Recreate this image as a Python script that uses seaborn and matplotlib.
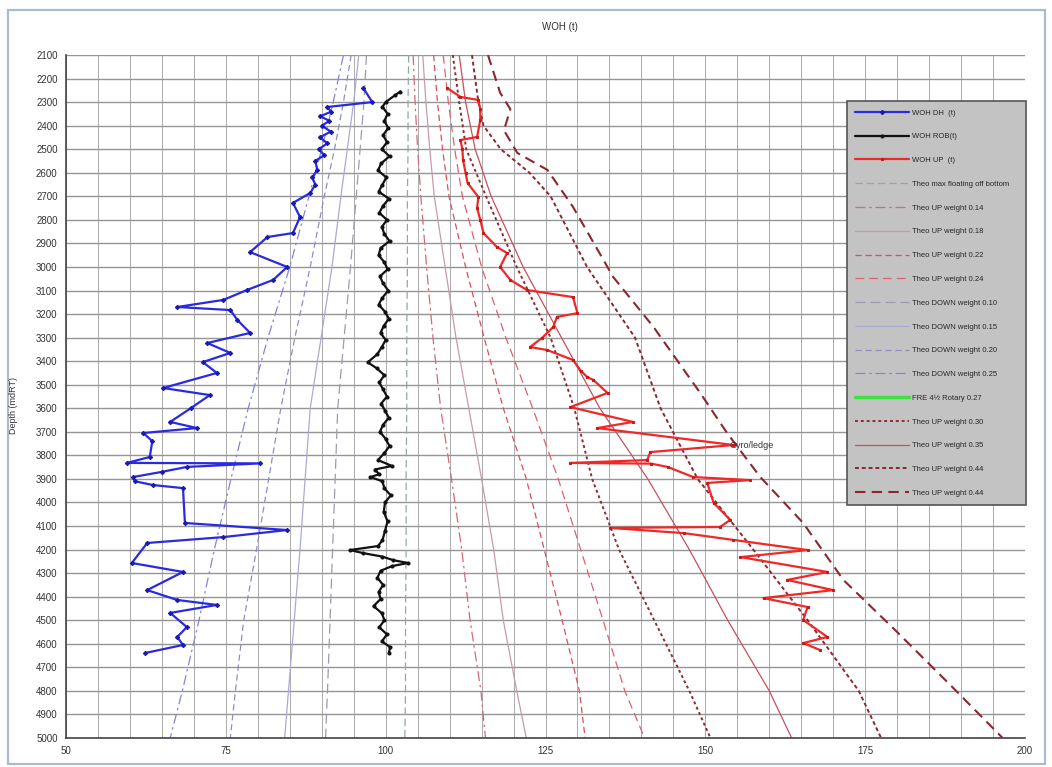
import matplotlib
matplotlib.use("Agg")
import matplotlib.pyplot as plt
import seaborn as sns
from matplotlib.lines import Line2D
from matplotlib.patches import Rectangle
from matplotlib.ticker import MultipleLocator

# --- measured weights (t) vs depth (mdRT) ---
dh_depth = [2240, 2300, 2321, 2340, 2360, 2380, 2400, 2425, 2450, 2475, 2500, 2525, 2550,
            2588, 2620, 2650, 2686, 2728, 2788, 2856, 2873, 2937, 3000, 3055, 3098, 3140,
            3170, 3183, 3225, 3280, 3323, 3365, 3404, 3450, 3514, 3544, 3600, 3658, 3684,
            3705, 3740, 3807, 3832, 3834, 3849, 3870, 3892, 3910, 3926, 3939, 4087, 4117,
            4147, 4172, 4257, 4295, 4372, 4414, 4435, 4469, 4529, 4571, 4605, 4639]
dh_weight = [96.5, 97.9, 90.8, 91.5, 89.8, 91.2, 90.0, 91.4, 89.7, 90.9, 89.5, 90.4, 89.0,
             89.3, 88.5, 89.0, 88.2, 85.5, 86.6, 85.5, 81.5, 78.8, 84.6, 82.4, 78.3, 74.6,
             67.4, 75.7, 76.8, 78.8, 72.1, 75.7, 71.4, 73.6, 65.2, 72.5, 69.5, 66.3, 70.5,
             62.1, 63.5, 63.1, 59.5, 80.4, 68.9, 65.0, 60.5, 60.8, 63.6, 68.3, 68.6, 84.6,
             74.6, 62.7, 60.3, 68.3, 62.7, 67.4, 73.6, 66.3, 68.9, 67.4, 68.3, 62.4]

rob_depth = [2255, 2270, 2300, 2320, 2350, 2380, 2410, 2440, 2470, 2500, 2530, 2560, 2590,
             2620, 2650, 2680, 2710, 2740, 2770, 2800, 2830, 2860, 2890, 2920, 2950, 2980,
             3010, 3040, 3070, 3100, 3130, 3160, 3190, 3220, 3250, 3280, 3310, 3340, 3370,
             3405, 3430, 3460, 3490, 3520, 3550, 3580, 3610, 3640, 3670, 3700, 3730, 3760,
             3790, 3820, 3845, 3860, 3880, 3892, 3910, 3940, 3970, 4000, 4040, 4080, 4120,
             4160, 4185, 4202, 4215, 4230, 4245, 4257, 4270, 4290, 4320, 4350, 4380, 4410,
             4440, 4470, 4500, 4530, 4560, 4590, 4614, 4640]
rob_weight = [102.3, 101.5, 100.0, 99.5, 100.3, 99.8, 100.4, 99.6, 100.2, 99.4, 100.6, 99.3, 98.8,
              100.1, 99.5, 98.9, 100.5, 99.6, 99.0, 100.2, 99.4, 99.8, 100.6, 99.2, 98.9, 99.8,
              100.3, 99.1, 99.6, 100.4, 99.5, 98.9, 99.9, 100.5, 99.7, 99.2, 100.0, 99.4, 98.7,
              97.2, 98.6, 99.8, 99.0, 99.6, 100.2, 99.3, 99.9, 100.5, 99.6, 99.1, 100.0, 100.6,
              99.8, 98.8, 101.0, 98.3, 99.0, 97.6, 99.5, 99.8, 100.8, 99.9, 99.7, 100.3, 99.9,
              99.5, 98.8, 94.4, 96.5, 99.5, 101.2, 103.5, 101.0, 99.2, 98.7, 99.6, 98.9, 99.2,
              98.1, 99.4, 99.8, 99.0, 100.2, 99.4, 100.7, 100.5]

up_depth = [2240, 2278, 2291, 2330, 2376, 2448, 2461, 2500, 2546, 2600, 2643, 2703, 2750,
            2800, 2856, 2915, 2941, 3000, 3055, 3098, 3128, 3196, 3212, 3255, 3300, 3340,
            3353, 3395, 3440, 3467, 3480, 3535, 3595, 3658, 3684, 3756, 3786, 3820, 3832,
            3835, 3849, 3892, 3905, 3917, 4002, 4074, 4104, 4108, 4130, 4159, 4202, 4232,
            4295, 4329, 4372, 4406, 4444, 4499, 4571, 4597, 4627]
up_weight = [109.6, 111.7, 114.5, 114.8, 114.8, 114.3, 111.7, 112.0, 112.1, 112.5, 112.8, 114.5, 114.3,
             114.8, 115.3, 117.4, 119.0, 117.9, 119.5, 122.1, 129.3, 130.0, 126.8, 126.2, 124.5, 122.6,
             125.3, 129.3, 130.5, 131.5, 132.5, 134.7, 128.9, 138.7, 133.1, 154.4, 141.4, 140.9, 128.9,
             141.5, 144.1, 148.1, 157.0, 150.3, 151.3, 153.9, 152.3, 135.1, 146.6, 154.4, 166.0, 155.5,
             169.1, 162.8, 170.0, 159.1, 166.0, 165.3, 169.1, 165.3, 168.0]

# --- theoretical curves ---
theo_depth = [2100, 2300, 2500, 2700, 3000, 3300, 3600, 3900, 4200, 4500, 4800, 5000]
rob_theo = [103.6, 103.5, 103.5, 103.4, 103.4, 103.3, 103.3, 103.2, 103.2, 103.1, 103.1, 103.0]
up_014 = [104.3, 104.6, 105.0, 105.5, 106.4, 107.4, 108.6, 110.3, 111.9, 113.2, 114.9, 115.6]
up_018 = [105.8, 106.3, 106.9, 107.6, 109.3, 111.0, 113.0, 115.0, 116.9, 118.4, 120.5, 122.0]
up_022 = [107.5, 108.1, 108.9, 109.9, 112.5, 115.4, 118.4, 122.0, 124.8, 127.6, 130.3, 131.2]
up_024 = [109.0, 109.8, 110.8, 112.0, 115.0, 118.8, 123.0, 127.0, 130.5, 134.0, 137.4, 140.5]
down_010 = [97.0, 96.6, 96.0, 95.4, 94.5, 93.5, 92.5, 92.1, 91.7, 91.3, 90.9, 90.6]
down_015 = [95.8, 95.0, 94.0, 93.0, 91.6, 89.9, 88.2, 87.4, 86.6, 85.7, 84.8, 84.2]
down_020 = [94.6, 93.4, 92.0, 90.4, 88.2, 85.8, 83.6, 81.7, 79.8, 77.8, 76.5, 75.7]
down_025 = [93.4, 91.8, 90.0, 88.0, 85.0, 81.6, 78.5, 75.8, 73.2, 70.8, 68.2, 66.3]
up_030 = [110.5, 111.5, 112.6, 115.7, 120.5, 125.8, 129.5, 132.3, 136.5, 142.0, 147.5, 150.8]
up_035 = [111.5, 112.5, 114.0, 116.5, 121.5, 127.5, 133.5, 141.0, 147.5, 153.5, 160.0, 163.5]

up_044a_depth = [2100, 2300, 2400, 2500, 2600, 2700, 3000, 3300, 3600, 3900, 4200, 4500, 4800, 5000]
up_044a = [113.5, 114.5, 115.3, 118.0, 122.5, 125.8, 131.5, 139.0, 143.0, 148.8, 157.5, 166.0, 174.0, 177.5]
up_044b_depth = [2100, 2260, 2330, 2420, 2516, 2588, 2745, 3043, 3255, 3535, 3705, 3892, 4087,
                 4329, 4550, 4780, 5000]
up_044b = [116.0, 117.9, 119.5, 118.5, 120.6, 125.3, 129.3, 135.6, 141.9, 149.2, 153.4, 158.6, 165.3,
           171.6, 180.0, 188.5, 196.5]

W, H = 1052, 767
fig = plt.figure(figsize=(W / 100, H / 100), dpi=100)
sns.set_style("white")
plt.rcParams["font.family"] = ["Liberation Sans", "DejaVu Sans"]

ax = fig.add_axes([66 / W, 1 - 738 / H, (1025 - 66) / W, (738 - 55) / H])


def trace(x, y, label, **kw):
    sns.lineplot(x=x, y=y, sort=False, estimator=None, ax=ax, label=label, **kw)


# theoretical lines first (behind the measurements)
trace(rob_theo, theo_depth, "Theo max floating off bottom", color="#93aaa0", lw=0.9, ls=(0, (6, 3)))
trace(up_014, theo_depth, "Theo UP weight 0.14", color="#d06a78", lw=0.9, ls=(0, (8, 3, 2, 3)))
trace(up_018, theo_depth, "Theo UP weight 0.18", color="#c99aaa", lw=0.9)
trace(up_022, theo_depth, "Theo UP weight 0.22", color="#d8505e", lw=0.9, ls=(0, (5, 3)))
trace(up_024, theo_depth, "Theo UP weight 0.24", color="#e06070", lw=0.9, ls=(0, (7, 4)))
trace(down_010, theo_depth, "Theo DOWN weight 0.10", color="#9c9cae", lw=0.9, ls=(0, (8, 4)))
trace(down_015, theo_depth, "Theo DOWN weight 0.15", color="#aaaad6", lw=0.9)
trace(down_020, theo_depth, "Theo DOWN weight 0.20", color="#8e8ec4", lw=0.9, ls=(0, (5, 3)))
trace(down_025, theo_depth, "Theo DOWN weight 0.25", color="#8484d8", lw=0.9, ls=(0, (8, 3, 2, 3)))
trace(up_030, theo_depth, "Theo UP weight 0.30", color="#8e2a32", lw=1.4, ls=(0, (1.5, 1.5)))
trace(up_035, theo_depth, "Theo UP weight 0.35", color="#c8505c", lw=0.9)
trace(up_044a, up_044a_depth, "Theo UP weight 0.44 ", color="#8a2830", lw=1.4, ls=(0, (2, 1.5)))
trace(up_044b, up_044b_depth, "Theo UP weight 0.44", color="#8a2830", lw=1.5, ls=(0, (5, 3)))

# measured
trace(dh_weight, dh_depth, "WOH DH  (t)", color="#2a2ae0", lw=1.6, marker="D", ms=2.2,
      mec="#1a1ab0", mfc="#1a1ab0")
trace(rob_weight, rob_depth, "WOH ROB(t)", color="#111111", lw=1.6, marker="o", ms=2.2,
      mec="#111111", mfc="#111111")
trace(up_weight, up_depth, "WOH UP  (t)", color="#f02828", lw=1.6, marker="s", ms=1.9,
      mec="#c81818", mfc="#c81818")

ax.annotate("Gyro/ledge", xy=(153.8, 3760), fontsize=6.5, color="#333333", va="center")

ax.set_xlim(50, 200)
ax.set_ylim(5000, 2100)
ax.xaxis.set_major_locator(MultipleLocator(25))
ax.xaxis.set_minor_locator(MultipleLocator(5))
ax.yaxis.set_major_locator(MultipleLocator(100))
ax.grid(True, which="major", axis="y", color="#959595", lw=1.0)
ax.grid(True, which="both", axis="x", color="#ababab", lw=0.7)
ax.set_axisbelow(True)
ax.tick_params(axis="both", which="major", labelsize=7, colors="#333333", direction="inout", length=5)
ax.tick_params(axis="x", which="minor", length=0)
ax.set_xlabel("")
ax.set_ylabel("")
for side in ["top", "right"]:
    ax.spines[side].set_visible(False)
for side in ["left", "bottom"]:
    ax.spines[side].set_color("#444444")
    ax.spines[side].set_linewidth(1.2)

# legend in the original order
h, l = ax.get_legend_handles_labels()
lookup = dict(zip(l, h))
order = ["WOH DH  (t)", "WOH ROB(t)", "WOH UP  (t)", "Theo max floating off bottom",
         "Theo UP weight 0.14", "Theo UP weight 0.18", "Theo UP weight 0.22", "Theo UP weight 0.24",
         "Theo DOWN weight 0.10", "Theo DOWN weight 0.15", "Theo DOWN weight 0.20",
         "Theo DOWN weight 0.25", "FRE 4½ Rotary 0.27", "Theo UP weight 0.30", "Theo UP weight 0.35",
         "Theo UP weight 0.44 ", "Theo UP weight 0.44"]
lookup["FRE 4½ Rotary 0.27"] = Line2D([], [], color="#3ee23e", lw=2.5)
leg = ax.legend([lookup[k] for k in order], [k.strip() for k in order],
                loc="upper left", bbox_to_anchor=(843 / W, 0.30, 187 / W, 1 - 97 / H - 0.30),
                bbox_transform=fig.transFigure, mode="expand", fontsize=5.5,
                labelspacing=2.15, borderpad=1.1, handlelength=7, handletextpad=0.4,
                frameon=True, fancybox=False, framealpha=1)
leg.get_frame().set_facecolor("#c3c3c3")
leg.get_frame().set_edgecolor("#555555")
leg.get_frame().set_linewidth(1.2)

fig.text(560 / W, 1 - 27 / H, "WOH (t)", fontsize=7, ha="center", va="center", color="#333333")
fig.text(14 / W, 1 - 405 / H, "Depth (mdRT)", fontsize=6.5, rotation=90, ha="center", va="center",
         color="#333333")
fig.patches.append(Rectangle((8 / W, 3 / H), (1045 - 8) / W, (757 - 3) / H, transform=fig.transFigure,
                             fill=False, edgecolor="#a8bccf", lw=1.6))

fig.savefig("out.png", dpi=100)
